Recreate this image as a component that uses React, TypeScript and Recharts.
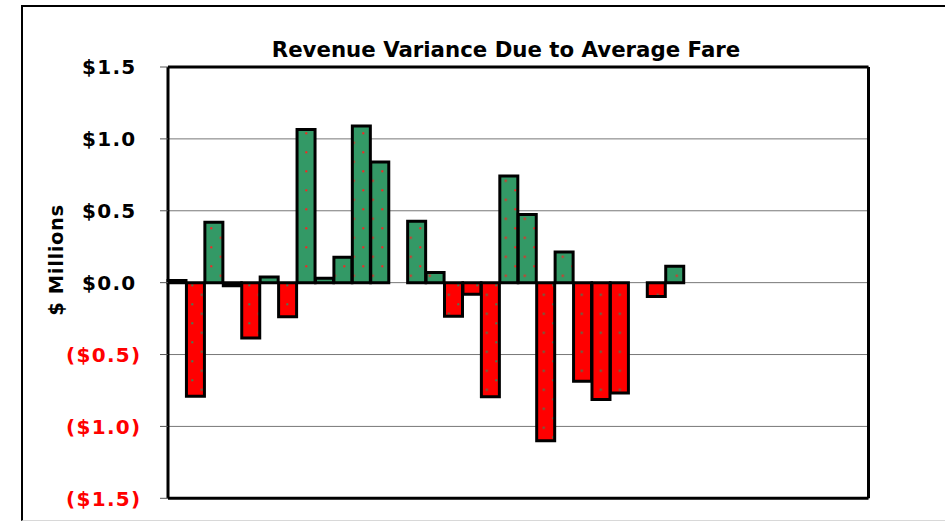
import React from 'react';
import { BarChart, Bar, XAxis, YAxis, CartesianGrid, Cell } from 'recharts';

const periods = [
  'P01', 'P02', 'P03', 'P04', 'P05', 'P06', 'P07', 'P08', 'P09', 'P10',
  'P11', 'P12', 'P13', 'P14', 'P15', 'P16', 'P17', 'P18', 'P19', 'P20',
  'P21', 'P22', 'P23', 'P24', 'P25', 'P26', 'P27', 'P28', 'P29', 'P30',
  'P31', 'P32', 'P33', 'P34', 'P35', 'P36', 'P37', 'P38',
];

const variance: (number | null)[] = [
  0.015, -0.79, 0.42, -0.022, -0.385, 0.04, -0.237, 1.065, 0.03, 0.177,
  1.09, 0.84, null, 0.427, 0.07, -0.233, -0.08, -0.794, 0.742, 0.474,
  -1.1, 0.214, -0.685, -0.813, -0.768, null, -0.096, 0.114, null, null,
  null, null, null, null, null, null, null, null,
];

const yTicks = [-1.5, -1.0, -0.5, 0, 0.5, 1.0, 1.5];

const titleText = 'Revenue Variance Due to Average Fare';
const yLabelText = '$ Millions';

const data = periods.map((m, i) => ({ m, v: variance[i] }));

const FONT = '"DejaVu Sans", Verdana, sans-serif';

const fmt = (v: number) => {
  const s = '$' + Math.abs(v).toFixed(1);
  return v < 0 ? '(' + s + ')' : s;
};

const YTick = (props: any) => {
  const { x, y, payload } = props;
  const v = payload.value as number;
  const neg = v < 0;
  return (
    <text
      x={x + (neg ? -16.5 : -21.5)}
      y={y}
      dy="0.36em"
      textAnchor="end"
      fontFamily={FONT}
      fontWeight="bold"
      fontSize={20}
      letterSpacing={1.3}
      fill={neg ? '#ff0000' : '#000000'}
    >
      {fmt(v)}
    </text>
  );
};

const frameLine = { stroke: '#000', strokeWidth: 3 };

export default function App() {
  return (
    <div
      style={{
        position: 'absolute',
        left: 0,
        top: 0,
        width: 945,
        height: 523,
        overflow: 'hidden',
        background: '#ffffff',
        fontFamily: FONT,
      }}
    >
      <div
        style={{
          position: 'absolute',
          left: 21,
          top: 5,
          width: 960,
          height: 513,
          borderTop: '2.5px solid #000',
          borderLeft: '2.5px solid #000',
          borderBottom: '1px solid #d8d8d8',
        }}
      />
      <BarChart
        width={945}
        height={523}
        data={data}
        margin={{ top: 66, right: 75.5, bottom: 23.7, left: 0 }}
        barCategoryGap={0}
        barGap={0}
        style={{ position: 'absolute', left: 0, top: 0 }}
      >
        <defs>
          <pattern id="gdots" patternUnits="userSpaceOnUse" x={1.3} y={-0.7} width={19} height={19}>
            <rect x={0} y={0} width={19} height={19} fill="#339966" />
            <rect x={0} y={0} width={2} height={2} fill="#ff2020" />
            <rect x={9.5} y={9.5} width={2} height={2} fill="#ff2020" />
          </pattern>
          <pattern id="rdots" patternUnits="userSpaceOnUse" x={1.3} y={-0.7} width={19} height={19}>
            <rect x={0} y={0} width={19} height={19} fill="#ff0000" />
            <rect x={0} y={0} width={2} height={2} fill="#3f7f55" />
            <rect x={9.5} y={9.5} width={2} height={2} fill="#3f7f55" />
          </pattern>
        </defs>
        <CartesianGrid vertical={false} stroke="#777777" strokeWidth={1} />
        <XAxis
          dataKey="m"
          tick={false}
          tickLine={false}
          height={1}
          axisLine={frameLine}
        />
        <XAxis
          xAxisId="top"
          dataKey="m"
          orientation="top"
          tick={false}
          tickLine={false}
          height={1}
          axisLine={frameLine}
        />
        <YAxis
          type="number"
          domain={[-1.5, 1.5]}
          ticks={yTicks}
          interval={0}
          allowDataOverflow
          width={168}
          tickSize={8}
          tickLine={{ stroke: '#555', strokeWidth: 1 }}
          axisLine={frameLine}
          tick={<YTick />}
        />
        <YAxis
          yAxisId="right"
          orientation="right"
          type="number"
          domain={[-1.5, 1.5]}
          width={1}
          tick={false}
          tickLine={false}
          axisLine={frameLine}
        />
        <Bar dataKey="v" stroke="#000" strokeWidth={3} isAnimationActive={false}>
          {data.map((d, i) => (
            <Cell key={i} fill={(d.v ?? 0) < 0 ? 'url(#rdots)' : 'url(#gdots)'} />
          ))}
        </Bar>
        <text
          x={506}
          y={57}
          textAnchor="middle"
          fontFamily={FONT}
          fontWeight="bold"
          fontSize={21.3}
          fill="#000"
        >
          {titleText}
        </text>
        <text
          transform="translate(63,260) rotate(-90)"
          textAnchor="middle"
          fontFamily={FONT}
          fontWeight="bold"
          fontSize={19.5}
          letterSpacing={0.6}
          fill="#000"
        >
          {yLabelText}
        </text>
      </BarChart>
    </div>
  );
}
